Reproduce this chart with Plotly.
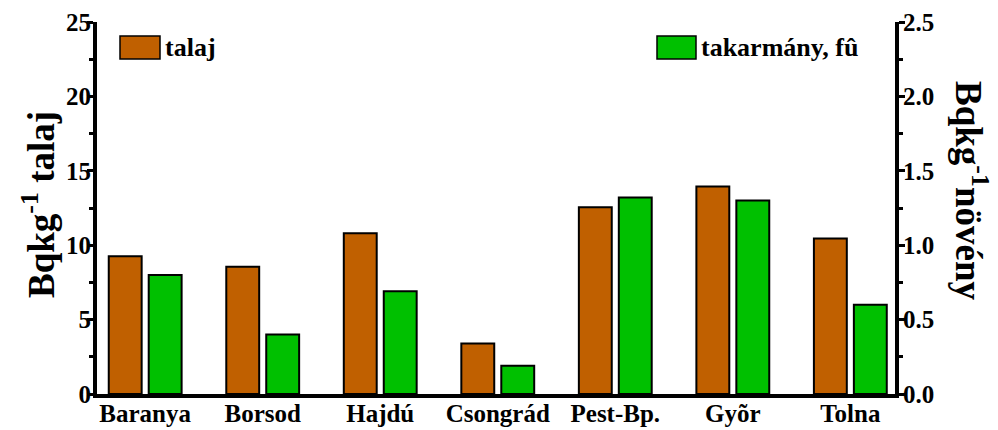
import plotly.graph_objects as go

# Activity concentrations per county
counties = ["Baranya", "Borsod", "Hajdú", "Csongrád", "Pest-Bp.", "Gyõr", "Tolna"]
talaj = [9.25, 8.55, 10.8, 3.4, 12.55, 13.95, 10.45]       # Bq/kg soil (left axis)
noveny = [0.80, 0.40, 0.69, 0.19, 1.32, 1.30, 0.60]        # Bq/kg plant (right axis)

left_ticks = [0, 5, 10, 15, 20, 25]
right_ticks = [0.0, 0.5, 1.0, 1.5, 2.0, 2.5]

BROWN = "#C06000"
GREEN = "#00C000"
FONT = "'Liberation Serif', 'Times New Roman', serif"

W, H = 998, 430
L, R, T, B = 97, 895, 22, 394
pw, ph = R - L, B - T


def px(x):
    return (x - L) / pw


def py(y):
    return (B - y) / ph


xs = list(range(len(counties)))

fig = go.Figure()
fig.add_trace(go.Bar(
    x=xs, y=talaj, name="talaj", yaxis="y",
    width=0.28, offset=-0.31,
    marker=dict(color=BROWN, line=dict(color="black", width=2)),
    showlegend=False,
))
fig.add_trace(go.Bar(
    x=xs, y=noveny, name="takarmány, fû", yaxis="y2",
    width=0.28, offset=0.03,
    marker=dict(color=GREEN, line=dict(color="black", width=2)),
    showlegend=False,
))

axis_font = dict(family=FONT, size=25, color="black", weight="bold")

fig.update_layout(
    width=W, height=H,
    margin=dict(l=L, r=W - R, t=T, b=H - B, autoexpand=False),
    plot_bgcolor="white", paper_bgcolor="white",
    barmode="overlay",
    xaxis=dict(
        range=[-0.41, 6.38], tickvals=xs, ticktext=counties,
        showline=True, linewidth=4, linecolor="black",
        ticks="", showgrid=False, zeroline=False, automargin=False,
        tickfont=axis_font, ticklabelstandoff=-6,
    ),
    yaxis=dict(
        range=[0, 25], tickvals=left_ticks, automargin=False,
        showline=True, linewidth=4, linecolor="black",
        ticks="outside", ticklen=6, tickwidth=3, tickcolor="black",
        minor=dict(dtick=2.5, ticks="outside", ticklen=4, tickwidth=3, tickcolor="black"),
        showgrid=False, zeroline=False, tickfont=axis_font, ticklabelstandoff=-9,
    ),
    yaxis2=dict(
        range=[0, 2.5], tickvals=right_ticks, tickformat=".1f", automargin=False,
        overlaying="y", side="right",
        showline=True, linewidth=4, linecolor="black",
        ticks="outside", ticklen=6, tickwidth=3, tickcolor="black",
        minor=dict(dtick=0.25, ticks="outside", ticklen=4, tickwidth=3, tickcolor="black"),
        showgrid=False, zeroline=False, tickfont=axis_font, ticklabelstandoff=-7,
    ),
    font=dict(family=FONT, color="black"),
)

title_font = dict(family=FONT, size=37, color="black", weight="bold")
fig.add_annotation(
    xref="paper", yref="paper", x=px(38), y=py(205),
    text="Bqkg<sup>-1</sup> talaj", textangle=-90, showarrow=False,
    xanchor="center", yanchor="middle", font=title_font,
)
fig.add_annotation(
    xref="paper", yref="paper", x=px(972), y=py(191),
    text="Bqkg<sup>-1</sup>növény", textangle=90, showarrow=False,
    xanchor="center", yanchor="middle", font=title_font,
)

# Legend entries: swatch + label
leg_font = dict(family=FONT, size=26, color="black", weight="bold")
legend_items = [("talaj", BROWN, 120, 160), ("takarmány, fû", GREEN, 657, 696)]
for label, color, x0, x1 in legend_items:
    fig.add_shape(
        type="rect", xref="paper", yref="paper",
        x0=px(x0), x1=px(x1), y0=py(59), y1=py(36),
        fillcolor=color, line=dict(color="black", width=1.5),
    )
    fig.add_annotation(
        xref="paper", yref="paper", x=px(x1 + 3), y=py(47),
        text=label, showarrow=False, xanchor="left", yanchor="middle",
        font=leg_font,
    )

fig.write_html("out.html")
